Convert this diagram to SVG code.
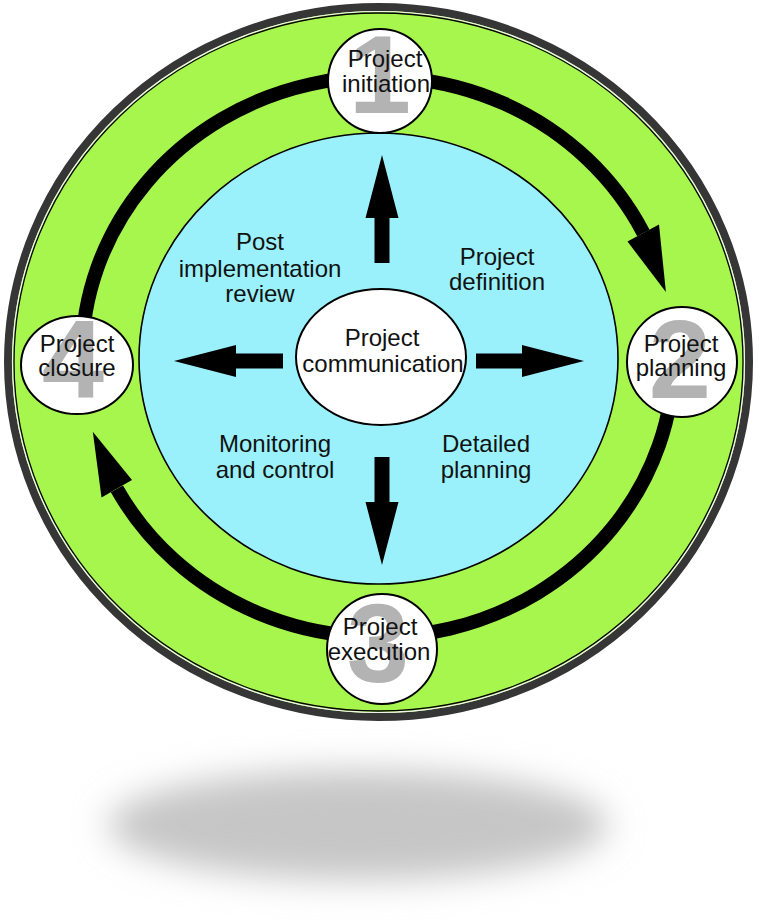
<svg xmlns="http://www.w3.org/2000/svg" width="759" height="924" viewBox="0 0 759 924">
<defs>
<filter id="blur" x="-30%" y="-80%" width="160%" height="260%"><feGaussianBlur stdDeviation="17"/></filter>
<style>
text{font-family:"Liberation Sans",Arial,sans-serif;font-size:24px;fill:#111;text-anchor:middle}
.num{font-size:112px;font-weight:bold;fill:#b3b3b3}
.node{fill:#fff;stroke:#000;stroke-width:2}
.ring{fill:none;stroke:#000;stroke-width:14}
.arr{fill:#000}
</style>
</defs>
<rect width="759" height="924" fill="#fff"/>
<ellipse cx="358" cy="825" rx="250" ry="55" fill="#c6c6c6" filter="url(#blur)"/>
<g id="outer">
<ellipse cx="378.5" cy="362" rx="370.5" ry="355" fill="#a6f64e" stroke="#363636" stroke-width="8"/>
<ellipse cx="378.5" cy="362" rx="366" ry="350.5" fill="none" stroke="#f4f4f4" stroke-width="1.2"/>
<ellipse cx="378.5" cy="362" rx="364.5" ry="349" fill="none" stroke="#000" stroke-width="1.3"/>
</g>
<g id="inner">
<ellipse cx="378.5" cy="358.5" rx="239.5" ry="225.5" fill="#9af1fb" stroke="#000" stroke-width="1.6"/>
</g>
<g id="connectors">
<path class="ring" d="M643.4 232.9 A296 280 0 0 0 82 357"/>
<path class="ring" d="M674 357 A296 280 0 0 1 116.9 488.9"/>
<polygon class="arr" points="627.5,241.5 659,224.5 665.9,292.1"/>
<polygon class="arr" points="132,480 101.5,497.5 92.8,431.8"/>
<polygon class="arr" points="374.5,263 374.5,218 365.5,218 382,155 398.5,218 389.5,218 389.5,263"/>
<polygon class="arr" points="374.5,457 374.5,502 365.5,502 382,565 398.5,502 389.5,502 389.5,457"/>
<polygon class="arr" points="283,353.5 236,353.5 236,345 174,361 236,377 236,368.5 283,368.5"/>
<polygon class="arr" points="476,353.5 522,353.5 522,345 584,361 522,377 522,368.5 476,368.5"/>
</g>
<g id="center">
<ellipse class="node" cx="381" cy="357" rx="85" ry="68"/>
<text x="382" y="346">Project</text>
<text x="383" y="372">communication</text>
</g>
<g id="node1">
<circle class="node" cx="380" cy="81" r="52"/>
<text class="num" x="380" y="113">1</text>
<text x="385" y="67">Project</text>
<text x="386" y="92">initiation</text>
</g>
<g id="node2">
<circle class="node" cx="682" cy="362" r="55"/>
<text class="num" x="680" y="398">2</text>
<text x="681" y="352">Project</text>
<text x="681" y="376">planning</text>
</g>
<g id="node3">
<circle class="node" cx="382" cy="649" r="55"/>
<text class="num" x="378" y="682">3</text>
<text x="380" y="635">Project</text>
<text x="379" y="660">execution</text>
</g>
<g id="node4">
<ellipse class="node" cx="77" cy="365" rx="56" ry="49"/>
<text class="num" x="73" y="398">4</text>
<text x="77" y="352">Project</text>
<text x="77" y="376">closure</text>
</g>
<g id="labels">
<text x="260" y="250">Post</text>
<text x="260" y="277">implementation</text>
<text x="260" y="302">review</text>
<text x="497" y="265">Project</text>
<text x="497" y="290">definition</text>
<text x="275" y="452">Monitoring</text>
<text x="275" y="478">and control</text>
<text x="486" y="452">Detailed</text>
<text x="486" y="478">planning</text>
</g>
</svg>
